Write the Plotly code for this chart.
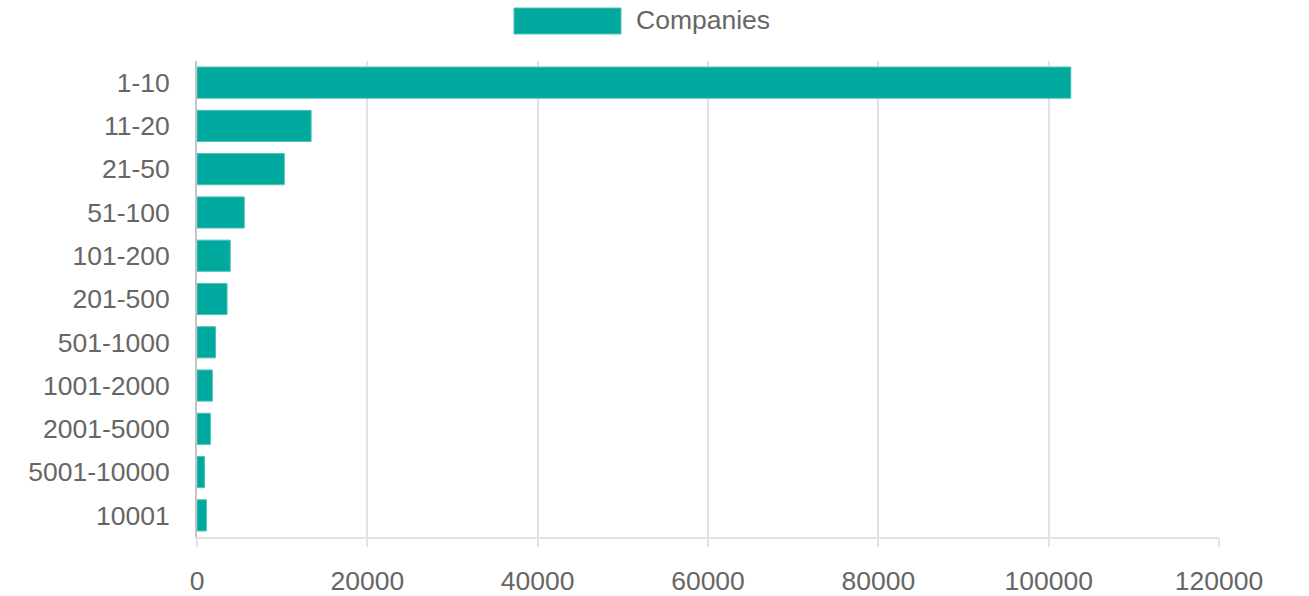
import plotly.graph_objects as go

categories = ["1-10", "11-20", "21-50", "51-100", "101-200", "201-500",
              "501-1000", "1001-2000", "2001-5000", "5001-10000", "10001"]
companies = [102600, 13400, 10250, 5550, 3900, 3530, 2170, 1800, 1580, 880, 1110]
series_name = "Companies"
x_ticks = [0, 20000, 40000, 60000, 80000, 100000, 120000]

TEAL = "#00a99d"
FONT = "Liberation Sans, Arial, Helvetica, sans-serif"
FS = 26.5

fig = go.Figure()
fig.add_trace(go.Bar(
    y=categories, x=companies, orientation="h", name=series_name,
    marker=dict(color=TEAL, line=dict(color="#4cc2ba", width=1)),
    showlegend=False,
))

W, H = 1309, 596
L, R, T, B = 197, 1219, 61, 537
pw, ph = R - L, B - T

def px_x(px):
    return (px - L) / pw

def px_y(py):
    return (B - py) / ph

fig.add_shape(type="rect", xref="paper", yref="paper",
              x0=px_x(514), x1=px_x(621), y0=px_y(34), y1=px_y(8),
              fillcolor=TEAL, line=dict(color="#4cc2ba", width=1))
fig.add_annotation(xref="paper", yref="paper", x=px_x(634), y=px_y(20),
                   text=series_name, showarrow=False, xanchor="left", yanchor="middle",
                   font=dict(family=FONT, size=FS, color="#666666"))

fig.update_layout(
    width=W, height=H,
    margin=dict(l=L, r=W - R, t=T, b=H - B, pad=0, autoexpand=False),
    paper_bgcolor="white", plot_bgcolor="white",
    bargap=0.28,
    font=dict(family=FONT, size=FS, color="#666666"),
)
fig.update_xaxes(
    automargin=False,
    range=[0, 120000], tickvals=x_ticks, ticktext=[str(v) for v in x_ticks],
    showgrid=True, gridcolor="#e3e3e3", gridwidth=2,
    zeroline=False, showline=True, linecolor="#e3e3e3", linewidth=2,
    ticks="outside", ticklen=8, tickcolor="#e3e3e3", tickwidth=2,
    ticklabelstandoff=11,
    tickfont=dict(family=FONT, size=FS, color="#666666"),
)
fig.update_yaxes(
    automargin=False,
    categoryorder="array", categoryarray=categories, autorange="reversed",
    showgrid=False, zeroline=False, showline=True, linecolor="#c4c4c4", linewidth=2,
    ticks="", ticklabelstandoff=20,
    tickfont=dict(family=FONT, size=FS, color="#666666"),
)

fig.write_html("out.html")
